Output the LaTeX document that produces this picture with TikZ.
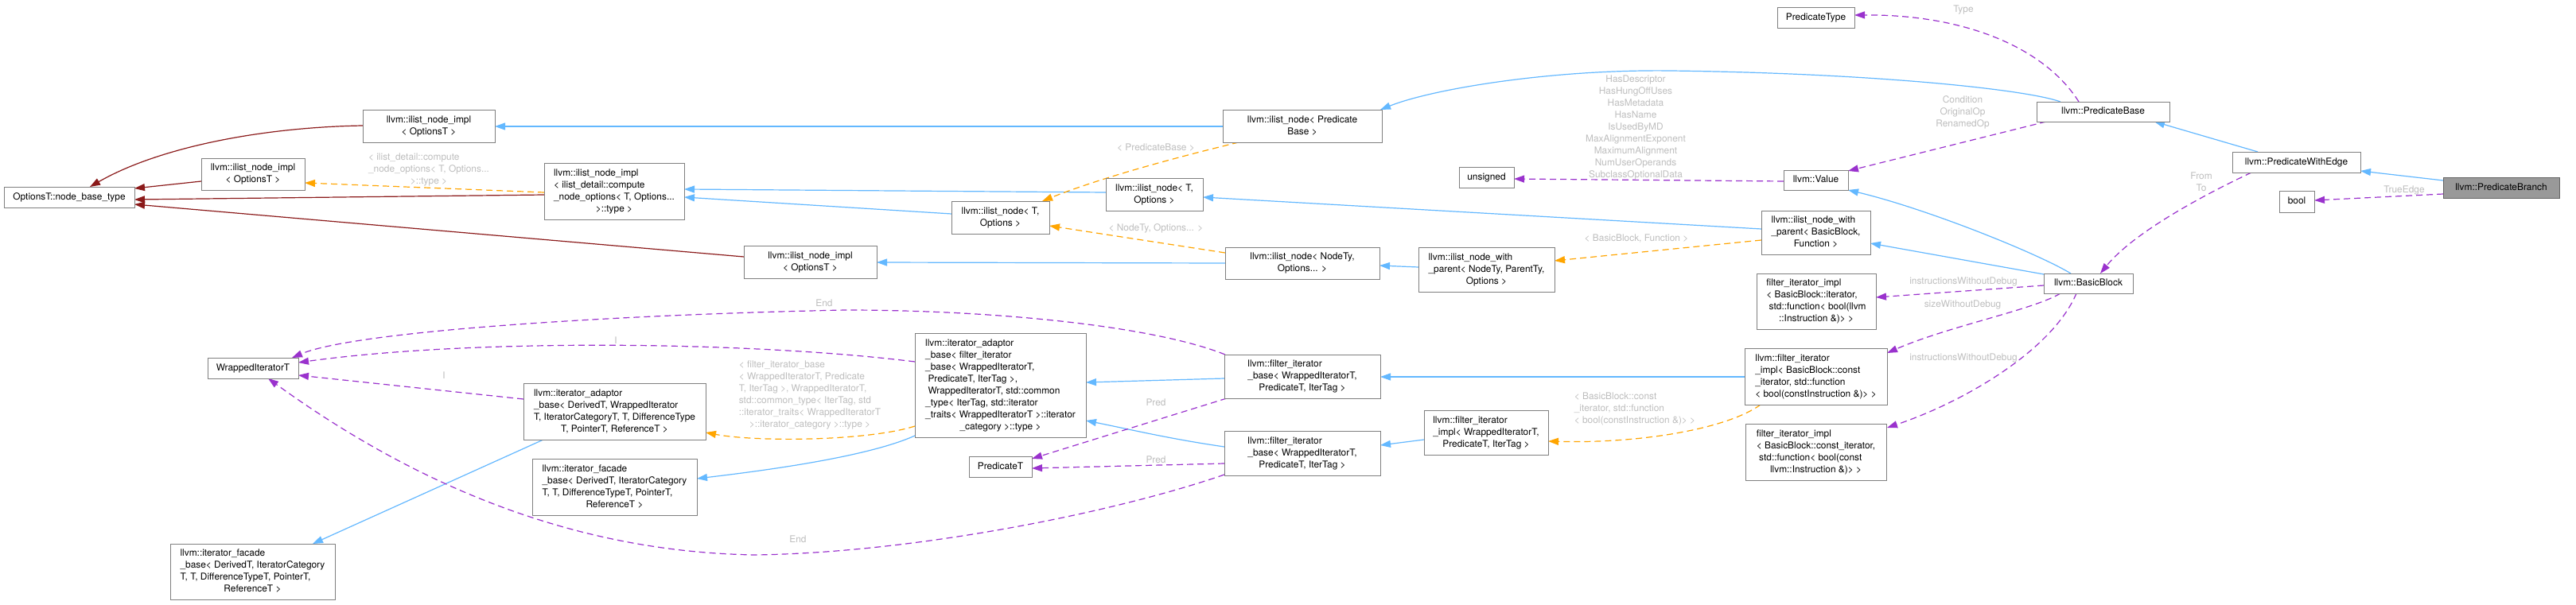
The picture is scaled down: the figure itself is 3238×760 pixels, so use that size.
\documentclass[tikz,border=0pt]{standalone}
\usepackage{fontspec}
\setmainfont{TeX Gyre Heros}
\usetikzlibrary{arrows.meta,calc}
\definecolor{eblue}{HTML}{63B8FF}
\definecolor{ered}{HTML}{8B1A1A}
\definecolor{eorange}{HTML}{FFA500}
\definecolor{epurple}{HTML}{9A32CD}
\definecolor{lblgray}{HTML}{BEBEBE}
\definecolor{boxgray}{HTML}{7F7F7F}
\definecolor{hlfill}{HTML}{999999}
\newcommand\lc[1]{\multicolumn{1}{@{}c@{}}{#1}}
\newcommand\tb[1]{\begin{tabular}{@{}l@{}}#1\end{tabular}}
\newcommand\cb[1]{\begin{tabular}{@{}c@{}}#1\end{tabular}}
\newcommand\bx[7][]{\node[cls,#1,minimum width={(#5)-(#3)},minimum height={(#6)-(#4)}] (#2) at ({((#3)+(#5))/2},{((#4)+(#6))/2}) {\tb{#7}};}
\pgfdeclarelayer{edges}
\pgfsetlayers{edges,main}
\tikzset{
  txt/.style={font=\fontsize{11.9}{15}\selectfont},
  cls/.style={txt,draw=boxgray,fill=white,line width=1pt,inner sep=0pt,outer sep=0pt},
  lbl/.style={txt,text=lblgray,inner sep=0pt,outer sep=0pt},
  edge/.style={line width=1.2pt,-{Triangle[length=13pt,width=9pt]}},
  inh/.style={edge,draw=eblue},
  priv/.style={edge,draw=ered},
  tmpl/.style={edge,draw=eorange,dash pattern=on 8pt off 5pt},
  use/.style={edge,draw=epurple,dash pattern=on 8pt off 5pt},
}
\begin{document}
\begin{tikzpicture}[x=1pt,y=-1pt]
\useasboundingbox (0,0) rectangle (3238,760);
\begin{pgfonlayer}{edges}
\fill[white] (0,0) rectangle (3238,760);
\end{pgfonlayer}

% nodes
\bx{nbt}{5}{235}{169}{261}{OptionsT::node\_base\_type}
\bx{itop}{456}{138}{622}{179}{llvm::ilist\_node\_impl\\\lc{< OptionsT >}}
\bx{imid}{253}{199}{383}{239}{llvm::ilist\_node\_impl\\\lc{< OptionsT >}}
\bx{icmp}{684}{205}{860}{276}{llvm::ilist\_node\_impl\\< ilist\_detail::compute\\\_node\_options< T, Options...\\\lc{>::type >}}
\bx{ilow}{935}{309}{1102}{350}{llvm::ilist\_node\_impl\\\lc{< OptionsT >}}
\bx{nT1}{1196}{253}{1319}{294}{llvm::ilist\_node< T,\\\lc{Options >}}
\bx{nT2}{1390}{224}{1512}{265}{llvm::ilist\_node< T,\\\lc{Options >}}
\bx{nPB}{1537}{138}{1737}{179}{llvm::ilist\_node< Predicate\\\lc{Base >}}
\bx{nNT}{1540}{311}{1734}{351}{llvm::ilist\_node< NodeTy,\\\lc{Options... >}}
\bx{wpNT}{1783}{311}{1954}{367}{llvm::ilist\_node\_with\\\_parent< NodeTy, ParentTy,\\\lc{Options >}}
\bx{uns}{1834}{210}{1903}{236}{unsigned}
\bx{ptype}{2234}{10}{2331}{36}{PredicateType}
\bx{pbase}{2560}{128}{2727}{153}{llvm::PredicateBase}
\bx{val}{2242}{214}{2323}{239}{llvm::Value}
\bx{wpBB}{2214}{265}{2351}{320}{llvm::ilist\_node\_with\\\_parent< BasicBlock,\\\lc{Function >}}
\bx{fiiBB}{2208}{344}{2358}{414}{filter\_iterator\_impl\\< BasicBlock::iterator,\\\ std::function< bool(llvm\\\lc{::Instruction \&)> >}}
\bx{bb}{2569}{344}{2681}{369}{llvm::BasicBlock}
\bx{pwe}{2806}{191}{2967}{217}{llvm::PredicateWithEdge}
\bx[fill=hlfill,draw=black!60]{pbr}{3071}{223}{3217}{249}{llvm::PredicateBranch}
\bx{bool}{2865}{240}{2909}{267}{bool}
\bx{wit}{261}{450}{375}{476}{WrappedIteratorT}
\bx{facL}{214}{684}{421}{754}{llvm::iterator\_facade\\\_base< DerivedT, IteratorCategory\\T, T, DifferenceTypeT, PointerT,\\\lc{ReferenceT >}}
\bx{adD}{658}{482}{887}{553}{llvm::iterator\_adaptor\\\_base< DerivedT, WrappedIterator\\T, IteratorCategoryT, T, DifferenceType\\\lc{T, PointerT, ReferenceT >}}
\bx{facU}{669}{577}{876}{648}{llvm::iterator\_facade\\\_base< DerivedT, IteratorCategory\\T, T, DifferenceTypeT, PointerT,\\\lc{ReferenceT >}}
\bx{adF}{1150}{419}{1365}{550}{llvm::iterator\_adaptor\\\_base< filter\_iterator\\\_base< WrappedIteratorT,\\\ PredicateT, IterTag >,\\\ WrappedIteratorT, std::common\\\_type< IterTag, std::iterator\\\_traits< WrappedIteratorT >::iterator\\\lc{\_category >::type >}}
\bx{predT}{1218}{574}{1297}{600}{PredicateT}
\bx{fibU}{1539}{446}{1735}{501}{llvm::filter\_iterator\\\_base< WrappedIteratorT,\\\lc{PredicateT, IterTag >}}
\bx{fibL}{1539}{542}{1735}{598}{llvm::filter\_iterator\\\_base< WrappedIteratorT,\\\lc{PredicateT, IterTag >}}
\bx{fiiW}{1790}{516}{1946}{572}{llvm::filter\_iterator\\\_impl< WrappedIteratorT,\\\lc{PredicateT, IterTag >}}
\bx{fiiC}{2193}{438}{2372}{509}{llvm::filter\_iterator\\\_impl< BasicBlock::const\\\_iterator, std::function\\\lc{< bool(constInstruction \&)> >}}
\bx{fiiC2}{2194}{533}{2371}{604}{filter\_iterator\_impl\\< BasicBlock::const\_iterator,\\\ std::function< bool(const\\\lc{llvm::Instruction \&)> >}}

% edge labels
\node[lbl] (lType) at (2468,13) {\tb{Type}};
\node[lbl] (lCond) at (2467,141) {\cb{Condition\\OriginalOp\\RenamedOp}};
\node[lbl] (lHas) at (2056,160) {\cb{HasDescriptor\\HasHungOffUses\\HasMetadata\\HasName\\IsUsedByMD\\MaxAlignmentExponent\\MaximumAlignment\\NumUserOperands\\SubclassOptionalData}};
\node[lbl] (lFrom) at (2767,230) {\cb{From\\To}};
\node[lbl] (lTrue) at (3022,239) {\tb{TrueEdge}};
\node[lbl] (lIWD1) at (2468,354) {\tb{instructionsWithoutDebug}};
\node[lbl] (lSWD) at (2467,383) {\tb{sizeWithoutDebug}};
\node[lbl] (lIWD2) at (2468,450) {\tb{instructionsWithoutDebug}};
\node[lbl] (lPB) at (1453,186) {\tb{< PredicateBase >}};
\node[lbl] (lNT) at (1453,287) {\tb{< NodeTy, Options... >}};
\node[lbl] (lBF) at (2057,300) {\tb{< BasicBlock, Function >}};
\node[lbl] (lCmp) at (539,213) {\tb{< ilist\_detail::compute\\\_node\_options< T, Options...\\\lc{>::type >}}};
\node[lbl] (lFib) at (1018,497) {\tb{< filter\_iterator\_base\\< WrappedIteratorT, Predicate\\T, IterTag >, WrappedIteratorT,\\std::common\_type< IterTag, std\\::iterator\_traits< WrappedIteratorT\\\lc{>::iterator\_category >::type >}}};
\node[lbl] (lConst) at (2055,514) {\tb{< BasicBlock::const\\\_iterator, std::function\\\lc{< bool(constInstruction \&)> >}}};
\node[lbl] (lEnd1) at (1036,382) {\tb{End}};
\node[lbl] (lEnd2) at (1003,679) {\tb{End}};
\node[lbl] (lI1) at (774,429) {\tb{I}};
\node[lbl] (lI2) at (558,473) {\tb{I}};
\node[lbl] (lPred1) at (1453,507) {\tb{Pred}};
\node[lbl] (lPred2) at (1453,579) {\tb{Pred}};

\begin{pgfonlayer}{edges}
% public inheritance
\draw[inh] ($(pbr.north west)+(0,4)$) -- ($(pwe.north west)+(161,24)$);
\draw[inh] ($(pwe.north west)+(32,0)$) -- ($(pbase.north west)+(148,25)$);
\draw[inh] ($(pbase.north west)+(30,0)$) .. controls (2545,112) and (2350,92) .. (2100,89) .. controls (1950,87) and (1800,112) .. ($(nPB.north west)+(198,0)$);
\draw[inh] ($(nPB.north west)+(0,21)$) -- ($(itop.north west)+(166,21)$);
\draw[inh] ($(nT2.north west)+(0,18)$) -- ($(icmp.north west)+(176,33)$);
\draw[inh] ($(nT1.north west)+(0,16)$) -- ($(icmp.north west)+(176,43)$);
\draw[inh] ($(nNT.north west)+(0,20)$) -- ($(ilow.north west)+(167,21)$);
\draw[inh] ($(wpNT.north west)+(0,25)$) -- ($(nNT.north west)+(194,23)$);
\draw[inh] ($(bb.north west)+(34,0)$) .. controls (2560,318) and (2420,262) .. ($(val.north west)+(81,25)$);
\draw[inh] ($(bb.north west)+(0,1)$) -- ($(wpBB.north west)+(137,41)$);
\draw[inh] ($(wpBB.north west)+(0,23)$) -- ($(nT2.north west)+(122,24)$);
\draw[inh] ($(fibU.north west)+(0,30)$) -- ($(adF.north west)+(215,62)$);
\draw[inh] ($(fibL.north west)+(0,20)$) .. controls (1470,552) and (1420,540) .. ($(adF.north west)+(215,110)$);
\draw[inh] ($(fiiW.north west)+(0,37)$) -- ($(fibL.north west)+(196,18)$);
\draw[inh] ($(fiiC.north west)+(0,36)$) -- ($(fibU.north west)+(196,28)$);
\draw[inh] ($(adF.north west)+(0,129)$) .. controls (1090,575) and (960,592) .. ($(facU.north west)+(207,25)$);
\draw[inh] ($(adD.north west)+(25,71)$) -- ($(facL.north west)+(179,0)$);
% private inheritance
\draw[priv] ($(itop.north west)+(0,20)$) .. controls (330,160) and (200,185) .. ($(nbt.north west)+(108,0)$);
\draw[priv] ($(imid.north west)+(0,29)$) -- ($(nbt.north west)+(164,2)$);
\draw[priv] ($(icmp.north west)+(0,40)$) -- ($(nbt.north west)+(164,16)$);
\draw[priv] ($(ilow.north west)+(0,14)$) -- ($(nbt.north west)+(164,22)$);
% template instances
\draw[tmpl] ($(icmp.north west)+(0,37)$) -- ($(imid.north west)+(130,31)$);
\draw[tmpl] ($(nPB.north west)+(20,41)$) .. controls (1470,200) and (1380,225) .. ($(nT1.north west)+(114,0)$);
\draw[tmpl] ($(nNT.north west)+(0,7)$) -- ($(nT1.north west)+(123,31)$);
\draw[tmpl] ($(wpBB.north west)+(0,37)$) -- ($(wpNT.north west)+(171,17)$);
\draw[tmpl] ($(adF.north west)+(0,117)$) .. controls (1090,555) and (950,556) .. ($(adD.north west)+(229,62)$);
\draw[tmpl] ($(fiiC.north west)+(20,71)$) .. controls (2170,540) and (2060,558) .. ($(fiiW.north west)+(156,39)$);
% usage
\draw[use] ($(pbase.north west)+(53,0)$) .. controls (2570,60) and (2470,18) .. ($(ptype.north west)+(97,9)$);
\draw[use] ($(pbase.north west)+(12,25)$) -- ($(val.north west)+(81,1)$);
\draw[use] ($(val.north west)+(0,14)$) -- ($(uns.north west)+(69,15)$);
\draw[use] ($(pwe.north west)+(24,26)$) .. controls (2760,250) and (2680,295) .. ($(bb.north west)+(71,0)$);
\draw[use] ($(pbr.north west)+(0,21)$) -- ($(bool.north west)+(44,12)$);
\draw[use] ($(bb.north west)+(0,15)$) -- ($(fiiBB.north west)+(150,30)$);
\draw[use] ($(bb.north west)+(21,25)$) .. controls (2555,390) and (2450,410) .. ($(fiiC.north west)+(179,6)$);
\draw[use] ($(bb.north west)+(41,25)$) .. controls (2580,440) and (2470,505) .. ($(fiiC2.north west)+(178,5)$);
\draw[use] ($(fibU.north west)+(1,0)$) .. controls (1450,410) and (1250,390) .. (1063,390) .. controls (800,395) and (450,415) .. ($(wit.north west)+(106,0)$);
\draw[use] ($(adF.north west)+(0,36)$) .. controls (950,430) and (600,425) .. ($(wit.north west)+(114,6)$);
\draw[use] ($(adD.north west)+(0,20)$) -- ($(wit.north west)+(114,22)$);
\draw[use] ($(fibL.north west)+(0,55)$) .. controls (1400,645) and (1150,695) .. (950,698) .. controls (750,695) and (550,630) .. ($(wit.north west)+(76,26)$);
\draw[use] ($(fibU.north west)+(3,55)$) -- ($(predT.north west)+(79,3)$);
\draw[use] ($(fibL.north west)+(0,41)$) -- ($(predT.north west)+(79,15)$);
\end{pgfonlayer}
\end{tikzpicture}
\end{document}
